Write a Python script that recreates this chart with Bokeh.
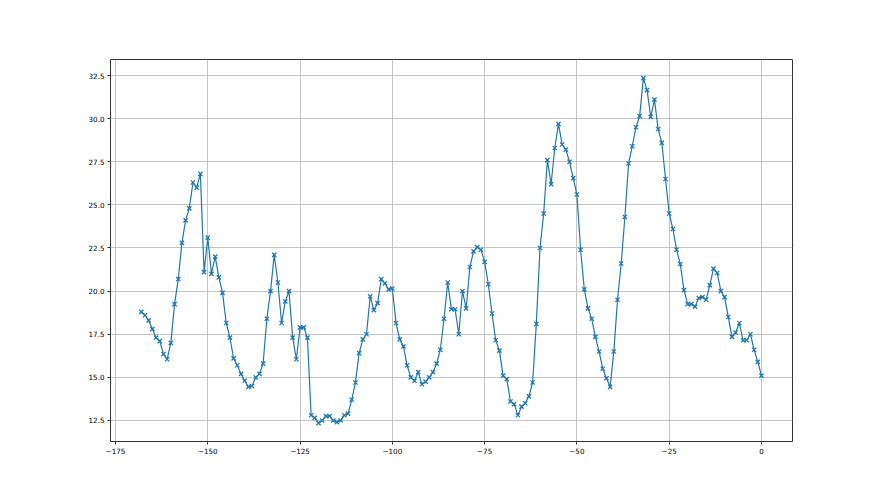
from bokeh.plotting import figure
from bokeh.models import FixedTicker, Range1d, ColumnDataSource
from bokeh.embed import file_html
from bokeh.resources import INLINE

# x positions (days)
x_start = -168
values = [
    18.8, 18.6, 18.3, 17.8, 17.3, 17.1, 16.35, 16.05, 17.0, 19.25,   # -168..-159
    20.7, 22.8, 24.1, 24.8, 26.3, 26.0, 26.8, 21.1, 23.1, 21.0,      # -158..-149
    22.0, 20.8, 19.9, 18.15, 17.3, 16.1, 15.7, 15.2, 14.8, 14.45,    # -148..-139
    14.5, 15.0, 15.2, 15.8, 18.4, 20.0, 22.1, 20.5, 18.15, 19.4,     # -138..-129
    20.0, 17.3, 16.05, 17.9, 17.9, 17.3, 12.8, 12.65, 12.35, 12.5,   # -128..-119
    12.75, 12.75, 12.5, 12.4, 12.5, 12.8, 12.9, 13.7, 14.7, 16.4,    # -118..-109
    17.2, 17.5, 19.7, 18.9, 19.3, 20.7, 20.45, 20.1, 20.15, 18.15,   # -108..-99
    17.2, 16.8, 15.7, 15.0, 14.8, 15.3, 14.6, 14.75, 15.0, 15.3,     # -98..-89
    15.8, 16.6, 18.4, 20.5, 18.95, 18.95, 17.5, 20.0, 19.0, 21.4,    # -88..-79
    22.3, 22.55, 22.4, 21.7, 20.4, 18.7, 17.15, 16.55, 15.1, 14.9,   # -78..-69
    13.6, 13.45, 12.8, 13.3, 13.5, 13.9, 14.7, 18.1, 22.5, 24.5,     # -68..-59
    27.6, 26.2, 28.3, 29.7, 28.5, 28.2, 27.5, 26.55, 25.6, 22.4,     # -58..-49
    20.1, 19.0, 18.4, 17.35, 16.5, 15.5, 14.95, 14.45, 16.5, 19.5,   # -48..-39
    21.6, 24.3, 27.4, 28.4, 29.5, 30.15, 32.35, 31.65, 30.1, 31.1,   # -38..-29
    29.4, 28.6, 26.5, 24.5, 23.6, 22.4, 21.57, 20.06, 19.25, 19.25,  # -28..-19
    19.1, 19.6, 19.65, 19.5, 20.35, 21.3, 21.05, 20.0, 19.65, 18.5,  # -18..-9
    17.35, 17.6, 18.15, 17.15, 17.15, 17.5, 16.6, 15.9, 15.1,        # -8..0
]
days = list(range(x_start, x_start + len(values)))

x_ticks = [-175, -150, -125, -100, -75, -50, -25, 0]
x_tick_labels = ["\u2212175", "\u2212150", "\u2212125", "\u2212100", "\u221275", "\u221250", "\u221225", "0"]
y_ticks = [12.5, 15.0, 17.5, 20.0, 22.5, 25.0, 27.5, 30.0, 32.5]
y_tick_labels = ["12.5", "15.0", "17.5", "20.0", "22.5", "25.0", "27.5", "30.0", "32.5"]

src = ColumnDataSource(dict(x=days, y=values))

p = figure(width=880, height=495, output_backend="svg", toolbar_location=None,
           x_range=Range1d(-176.35, 8.4), y_range=Range1d(11.28, 33.43),
           min_border_left=110, min_border_right=88, min_border_top=59, min_border_bottom=54)
p.background_fill_color = "white"
p.border_fill_color = "white"
p.outline_line_color = "#333333"
p.outline_line_width = 1

p.line("x", "y", source=src, line_color="#1f77b4", line_width=1.2)
p.scatter("x", "y", source=src, marker="x", size=6, line_color="#1f77b4", line_width=1.3)

p.xaxis.ticker = FixedTicker(ticks=x_ticks)
p.yaxis.ticker = FixedTicker(ticks=y_ticks)
p.xaxis.major_label_overrides = dict(zip(x_ticks, x_tick_labels))
p.yaxis.major_label_overrides = dict(zip(y_ticks, y_tick_labels))

for ax in (p.xaxis, p.yaxis):
    ax.axis_line_color = None
    ax.major_tick_in = 0
    ax.major_tick_out = 3
    ax.major_tick_line_color = "#333333"
    ax.minor_tick_line_color = None
    ax.major_label_text_font = "DejaVu Sans"
    ax.major_label_text_font_size = "7.2px"
    ax.major_label_text_color = "black"
    ax.major_label_standoff = 3

p.grid.grid_line_color = "#c4c4c4"
p.grid.grid_line_width = 1

open("out.html", "w").write(file_html(p, INLINE))
